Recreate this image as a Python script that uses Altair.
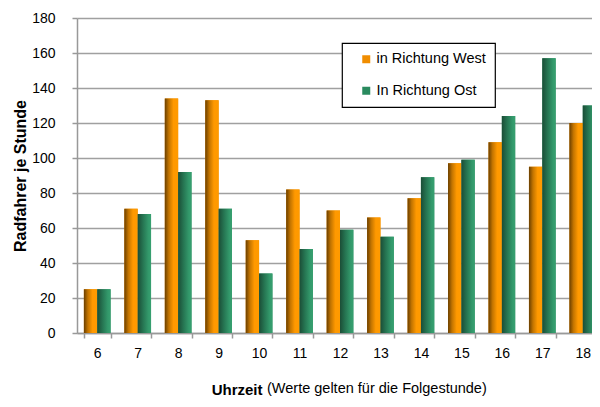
import altair as alt
import pandas as pd

hours = [6, 7, 8, 9, 10, 11, 12, 13, 14, 15, 16, 17, 18]
west = [25, 71, 134, 133, 53, 82, 70, 66, 77, 97, 109, 95, 120]
ost = [25, 68, 92, 71, 34, 48, 59, 55, 89, 99, 124, 157, 130]
series_names = ["in Richtung West", "In Richtung Ost"]

rows = []
for h, w, o in zip(hours, west, ost):
    rows.append({"hour": h, "series": series_names[0], "value": w})
    rows.append({"hour": h, "series": series_names[1], "value": o})
df = pd.DataFrame(rows)

FONT = "Liberation Sans"

grad_orange = alt.Gradient(
    gradient="linear", x1=0, y1=0, x2=1, y2=0,
    stops=[
        alt.GradientStop(color="#6a3f00", offset=0),
        alt.GradientStop(color="#c27400", offset=0.3),
        alt.GradientStop(color="#ff9900", offset=0.65),
        alt.GradientStop(color="#ff9a00", offset=1),
    ],
)
grad_green = alt.Gradient(
    gradient="linear", x1=0, y1=0, x2=1, y2=0,
    stops=[
        alt.GradientStop(color="#1b4d36", offset=0),
        alt.GradientStop(color="#267552", offset=0.4),
        alt.GradientStop(color="#33996b", offset=0.8),
        alt.GradientStop(color="#37a070", offset=1),
    ],
)

x_enc = alt.X(
    "hour:O",
    scale=alt.Scale(paddingInner=0.34, paddingOuter=0.17),
    axis=alt.Axis(
        title="Uhrzeit",
        titleFontWeight="bold",
        titleFontSize=15,
        titleX=185,
        titleY=56,
        titleAlign="right",
        titleBaseline="middle",
        labelAngle=0,
        labelFontSize=14,
        labelPadding=8,
        tickBand="extent",
        tickSize=5,
        grid=False,
    ),
)
xoff_enc = alt.XOffset(
    "series:N",
    scale=alt.Scale(domain=series_names, paddingInner=0, paddingOuter=0),
)
y_enc = alt.Y(
    "value:Q",
    scale=alt.Scale(domain=[0, 180], nice=False),
    axis=alt.Axis(
        title="Radfahrer je Stunde",
        titleFontWeight="bold",
        titleFontSize=16,
        titleX=-57,
        titleY=157.5,
        titleAngle=270,
        titleAlign="center",
        titleBaseline="middle",
        values=list(range(0, 181, 20)),
        labelFontSize=14,
        labelPadding=17,
        tickSize=5,
        grid=True,
    ),
)

base = alt.Chart(df).encode(x=x_enc, xOffset=xoff_enc, y=y_enc)

legend_bars = base.mark_bar().encode(
    color=alt.Color(
        "series:N",
        scale=alt.Scale(domain=series_names, range=["#f08d00", "#2a8a5e"]),
        legend=alt.Legend(title=None),
    )
)
west_bars = base.transform_filter(
    alt.datum.series == series_names[0]
).mark_bar(color=grad_orange)
ost_bars = base.transform_filter(
    alt.datum.series == series_names[1]
).mark_bar(color=grad_green)

chart = (
    alt.layer(legend_bars, west_bars, ost_bars)
    .properties(
        width=526,
        height=315,
        autosize=alt.AutoSizeParams(type="none"),
        padding={"left": 69, "top": 10, "right": -11, "bottom": 66},
        title=alt.Title(
            text="(Werte gelten für die Folgestunde)",
            orient="bottom",
            anchor="start",
            frame="group",
            dx=190,
            dy=-8,
            offset=0,
            baseline="middle",
            fontSize=14.5,
            fontWeight="normal",
            color="#000",
            font=FONT,
        ),
    )
    .configure(font=FONT, background="white")
    .configure_view(stroke=None)
    .configure_axis(
        labelFont=FONT,
        titleFont=FONT,
        labelColor="#000",
        titleColor="#000",
        domainColor="#999",
        domainWidth=1.5,
        tickColor="#999",
        tickWidth=1.5,
        gridColor="#a0a0a0",
        gridWidth=1.5,
    )
    .configure_legend(
        orient="none",
        legendX=265,
        legendY=25,
        direction="vertical",
        symbolType="square",
        symbolSize=64,
        symbolStrokeWidth=0,
        symbolOffset=8,
        labelFont=FONT,
        labelFontSize=14.5,
        labelColor="#000",
        labelOffset=3,
        rowPadding=16.5,
        padding=9,
        strokeColor="#000",
        strokeWidth=1.2,
        fillColor="white",
        cornerRadius=0,
    )
)

chart.save("out.html", embed_options={"renderer": "svg", "actions": False})
